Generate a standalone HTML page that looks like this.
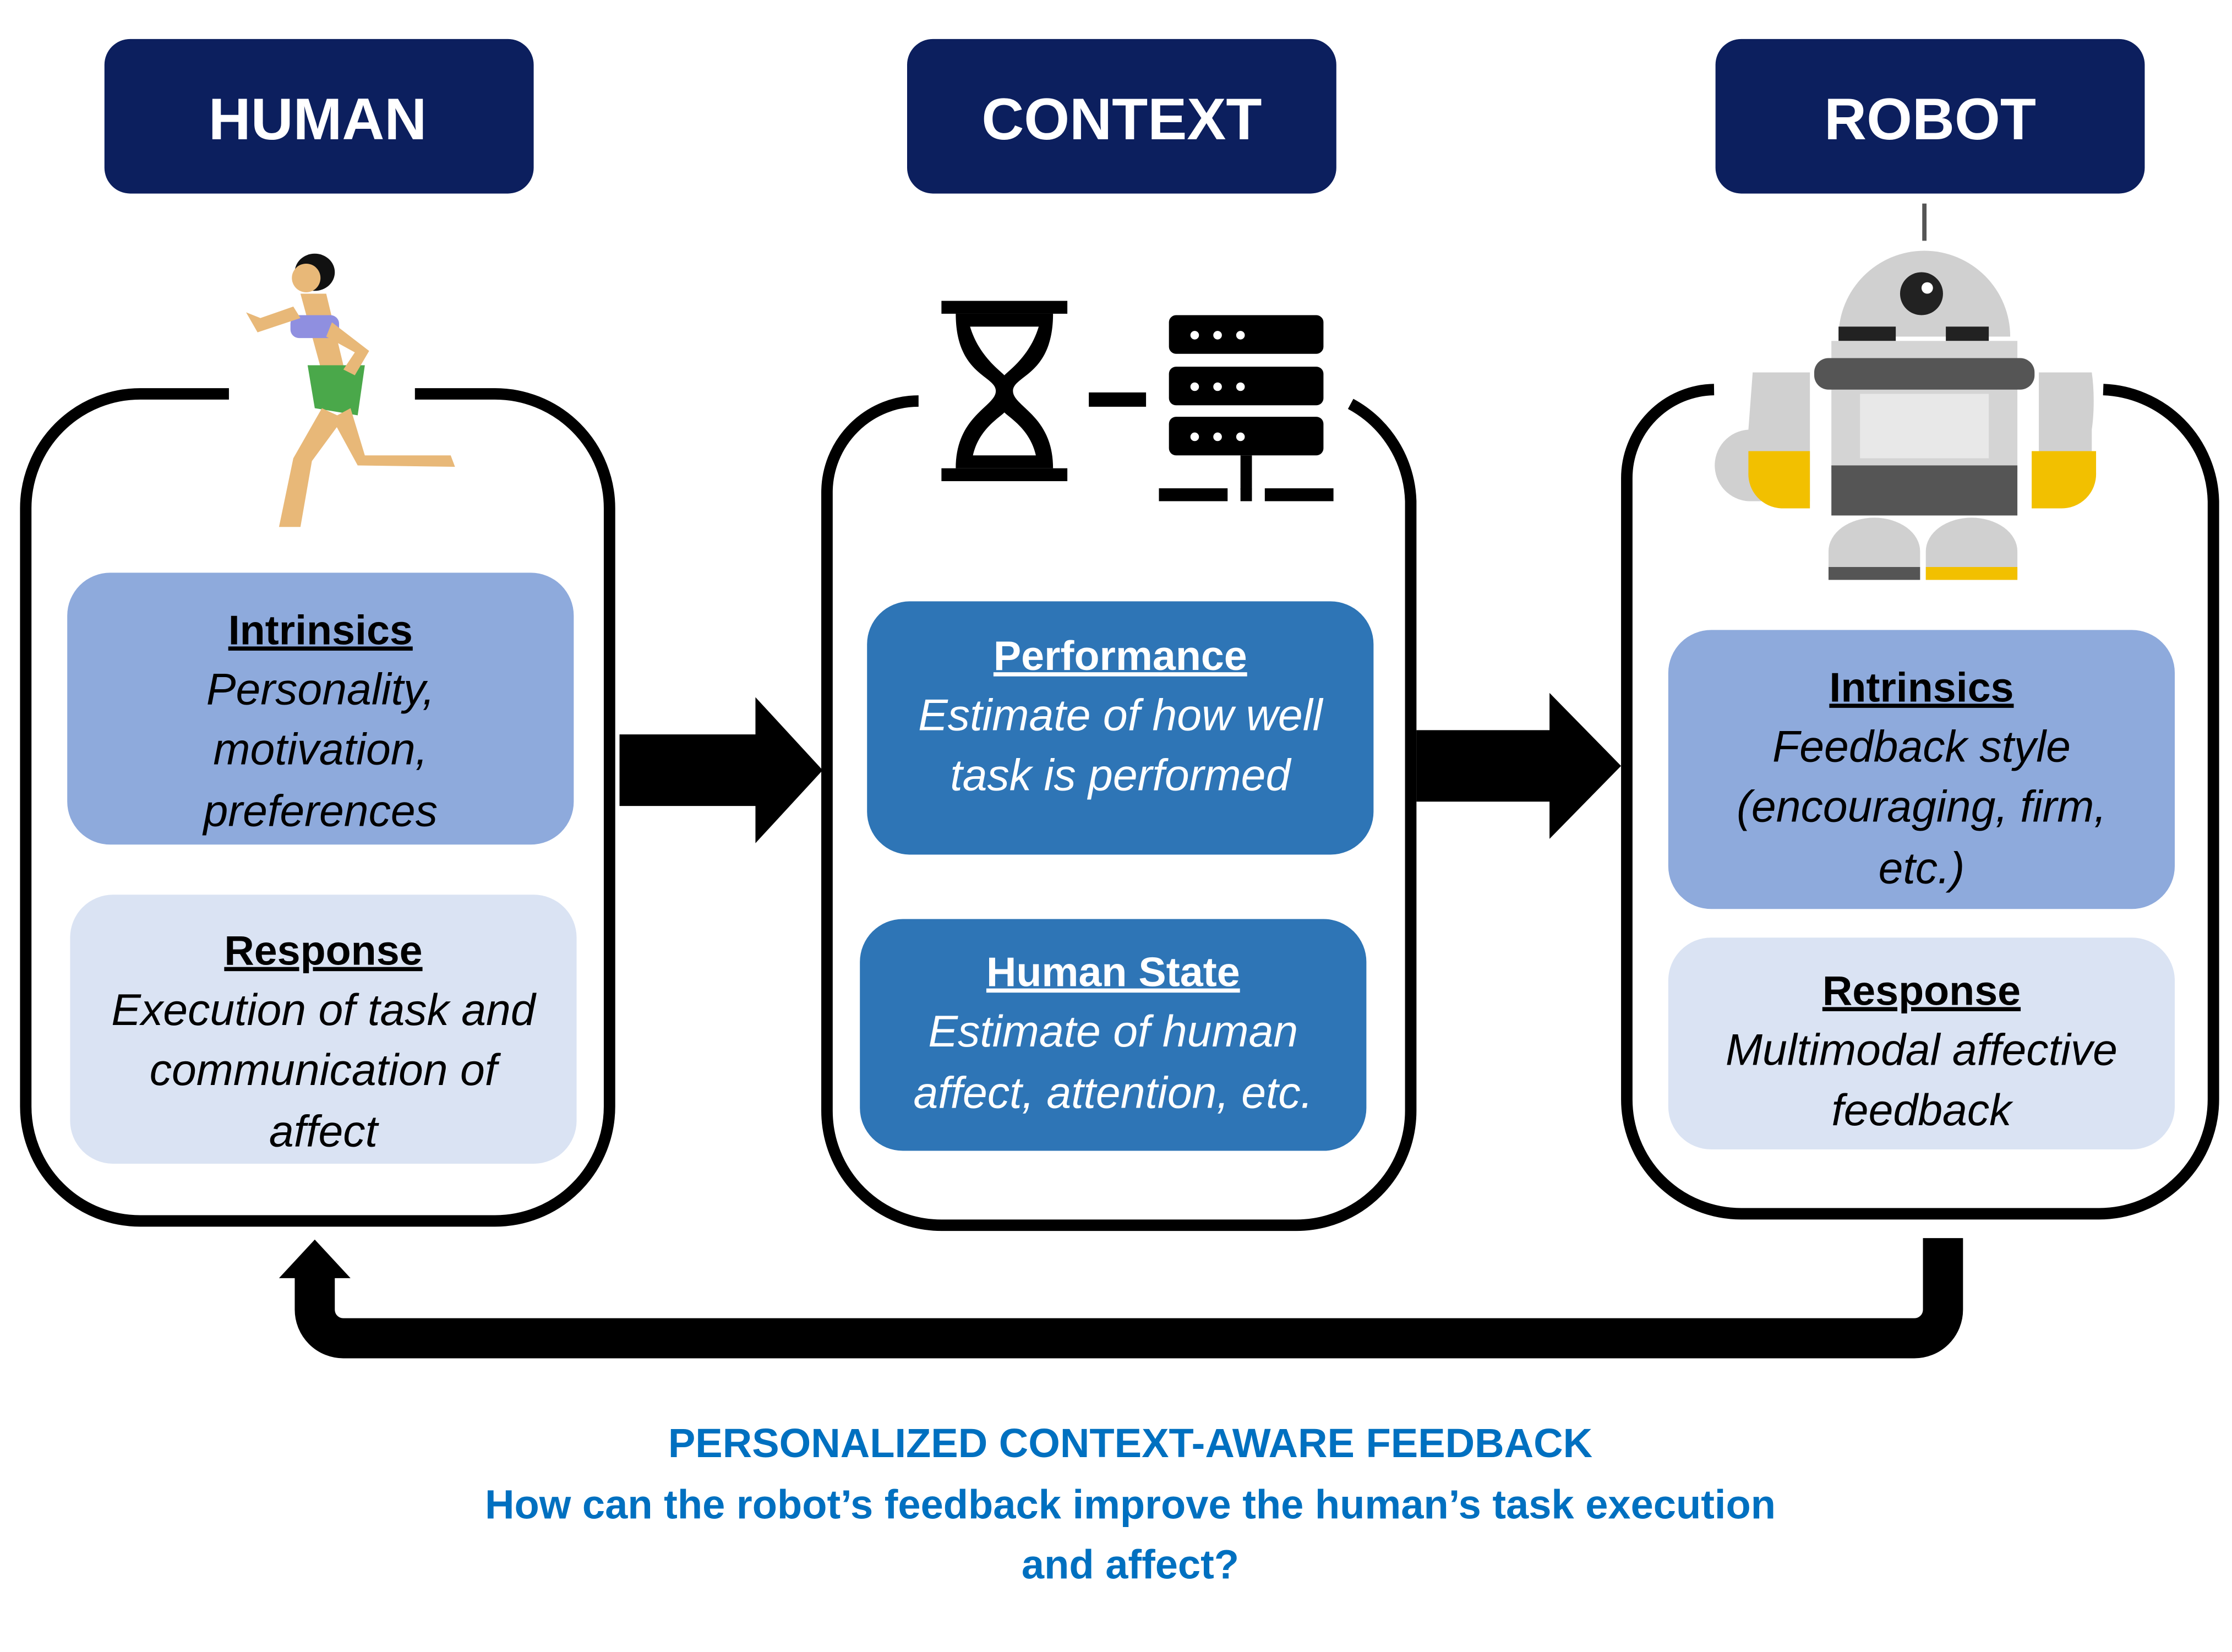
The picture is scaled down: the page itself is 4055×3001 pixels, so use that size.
<!DOCTYPE html>
<html><head><meta charset="utf-8"><style>
html,body{margin:0;padding:0;background:#fff;}
svg{display:block;}
text{font-family:"Liberation Sans","DejaVu Sans",sans-serif;}
.h{font-size:41px;font-weight:bold;fill:#fff;text-anchor:middle;}
.t{font-size:29px;font-weight:bold;text-anchor:middle;text-decoration:underline;}
.i{font-size:31px;font-style:italic;text-anchor:middle;}
.b{font-size:28.5px;font-weight:bold;fill:#0070c0;text-anchor:middle;}
</style></head><body>
<svg width="4055" height="3001" viewBox="0 0 1560 1154" xmlns="http://www.w3.org/2000/svg">
<rect width="1560" height="1154" fill="#fff"/>
<rect x="73" y="27" width="300" height="108" rx="18" fill="#0c1f5e"/>
<text class="h" x="222" y="97">HUMAN</text>
<rect x="634" y="27" width="300" height="108" rx="18" fill="#0c1f5e"/>
<text class="h" x="784" y="97">CONTEXT</text>
<rect x="1199" y="27" width="300" height="108" rx="18" fill="#0c1f5e"/>
<text class="h" x="1349" y="97">ROBOT</text>

<g fill="none" stroke="#000" stroke-width="8">
<path d="M160 275 H98 A80 80 0 0 0 18 355 V773 A80 80 0 0 0 98 853 H346 A80 80 0 0 0 426 773 V355 A80 80 0 0 0 346 275 H290"/>
<path d="M642 280 A64 64 0 0 0 578 344 V776 A80 80 0 0 0 658 856 H906 A80 80 0 0 0 986 776 V350 A80 80 0 0 0 944 282"/>
<path d="M1198 272 A62 62 0 0 0 1137 334 V768 A80 80 0 0 0 1217 848 H1467 A80 80 0 0 0 1547 768 V350 A80 80 0 0 0 1470 272"/>
</g>

<rect x="47" y="400" width="354" height="190" rx="30" fill="#8eaadc"/>
<text class="t" x="224" y="450">Intrinsics</text>
<text class="i" x="224" y="492">Personality,</text>
<text class="i" x="224" y="534">motivation,</text>
<text class="i" x="224" y="577">preferences</text>
<rect x="49" y="625" width="354" height="188" rx="30" fill="#dae3f3"/>
<text class="t" x="226" y="674">Response</text>
<text class="i" x="226" y="716">Execution of task and</text>
<text class="i" x="226" y="758">communication of</text>
<text class="i" x="226" y="801">affect</text>

<rect x="606" y="420" width="354" height="177" rx="30" fill="#2e75b6"/>
<text class="t" x="783" y="468" fill="#fff">Performance</text>
<text class="i" x="783" y="510" fill="#fff">Estimate of how well</text>
<text class="i" x="783" y="552" fill="#fff">task is performed</text>
<rect x="601" y="642" width="354" height="162" rx="30" fill="#2e75b6"/>
<text class="t" x="778" y="689" fill="#fff">Human State</text>
<text class="i" x="778" y="731" fill="#fff">Estimate of human</text>
<text class="i" x="778" y="774" fill="#fff">affect, attention, etc.</text>

<rect x="1166" y="440" width="354" height="195" rx="30" fill="#8eaadc"/>
<text class="t" x="1343" y="490">Intrinsics</text>
<text class="i" x="1343" y="532">Feedback style</text>
<text class="i" x="1343" y="574">(encouraging, firm,</text>
<text class="i" x="1343" y="617">etc.)</text>
<rect x="1166" y="655" width="354" height="148" rx="30" fill="#dae3f3"/>
<text class="t" x="1343" y="702">Response</text>
<text class="i" x="1343" y="744">Multimodal affective</text>
<text class="i" x="1343" y="786">feedback</text>

<polygon points="433,513 528,513 528,487 575,538 528,589 528,563 433,563" fill="#000"/>
<polygon points="990,510 1083,510 1083,484 1133,535 1083,586 1083,560 990,560" fill="#000"/>

<path d="M1358 865 V915 A20 20 0 0 1 1338 935 H240 A20 20 0 0 1 220 915 V892" fill="none" stroke="#000" stroke-width="28"/>
<polygon points="195,893 245,893 220,866" fill="#000"/>

<text class="b" x="790" y="1018">PERSONALIZED CONTEXT-AWARE FEEDBACK</text>
<text class="b" x="790" y="1061">How can the robot’s feedback improve the human’s task execution</text>
<text class="b" x="790" y="1103">and affect?</text>

<g>
<ellipse cx="220" cy="190" rx="14" ry="13" fill="#111"/>
<circle cx="214" cy="194" r="10" fill="#e8b878"/>
<path d="M210 205 L225 260 L240 255 L228 205Z" fill="#e8b878"/>
<rect x="203" y="220" width="34" height="16" rx="6" fill="#8f8fe0"/>
<path d="M215 255 L255 255 L250 290 L220 285Z" fill="#4aa84a"/>
<path d="M225 285 L205 320 L195 368 L210 368 L218 322 L240 292Z" fill="#e8b878"/>
<path d="M245 285 L255 318 L315 318 L318 326 L250 325 L232 292Z" fill="#e8b878"/>
<path d="M210 222 L180 232 L172 218 L182 222 L205 214Z" fill="#e8b878"/>
<path d="M232 225 L258 245 L248 262 L240 258 L248 246 L228 235Z" fill="#e8b878"/>
</g>

<g fill="#000">
<rect x="658" y="210" width="88" height="9"/>
<rect x="658" y="327" width="88" height="9"/>
<path d="M668 219 H736 C736 262 708 262 708 273 C708 284 736 290 736 327 H668 C668 290 696 284 696 273 C696 262 668 262 668 219Z M678 228 C684 248 698 258 702 262 C706 258 720 248 726 228Z M680 318 H724 C720 300 706 292 702 288 C698 292 684 300 680 318Z" fill-rule="evenodd"/>
<rect x="761" y="274" width="40" height="10"/>
<rect x="817" y="220" width="108" height="27" rx="5"/>
<rect x="817" y="256" width="108" height="27" rx="5"/>
<rect x="817" y="291" width="108" height="27" rx="5"/>
<rect x="867" y="318" width="8" height="24"/>
<rect x="810" y="341" width="48" height="9"/>
<rect x="867" y="341" width="8" height="9"/>
<rect x="884" y="341" width="48" height="9"/>
</g>
<g fill="#fff">
<circle cx="835" cy="234" r="3"/><circle cx="851" cy="234" r="3"/><circle cx="867" cy="234" r="3"/>
<circle cx="835" cy="270" r="3"/><circle cx="851" cy="270" r="3"/><circle cx="867" cy="270" r="3"/>
<circle cx="835" cy="305" r="3"/><circle cx="851" cy="305" r="3"/><circle cx="867" cy="305" r="3"/>
</g>

<g>
<line x1="1345" y1="142" x2="1345" y2="168" stroke="#555" stroke-width="3"/>
<path d="M1285 235 A60 60 0 0 1 1405 235Z" fill="#d0d0d0"/>
<circle cx="1343" cy="205" r="15" fill="#222"/>
<circle cx="1347" cy="201" r="4" fill="#fff"/>
<rect x="1285" y="228" width="40" height="10" fill="#222"/>
<rect x="1360" y="228" width="30" height="10" fill="#222"/>
<rect x="1280" y="238" width="130" height="92" fill="#d4d4d4"/>
<rect x="1268" y="250" width="154" height="22" rx="10" fill="#555"/>
<rect x="1300" y="275" width="90" height="45" fill="#e8e8e8"/>
<rect x="1280" y="325" width="130" height="35" fill="#555"/>
<path d="M1225 260 H1265 V350 H1225 A20 20 0 0 1 1222 300Z" fill="#d0d0d0"/>
<path d="M1222 315 H1265 V355 H1245 A24 24 0 0 1 1222 330Z" fill="#f2c000"/>
<path d="M1425 260 H1462 A10 40 0 0 1 1462 300 V330 A24 24 0 0 1 1440 355 H1425Z" fill="#d0d0d0"/>
<path d="M1420 315 H1465 V330 A24 24 0 0 1 1440 355 H1420Z" fill="#f2c000"/>
<path d="M1278 405 V385 A30 22 0 0 1 1342 385 V405Z" fill="#d0d0d0"/>
<rect x="1278" y="396" width="64" height="9" fill="#555"/>
<path d="M1346 405 V385 A30 22 0 0 1 1410 385 V405Z" fill="#d0d0d0"/>
<rect x="1346" y="396" width="64" height="9" fill="#f2c000"/>
</g>
</svg>
</body></html>
